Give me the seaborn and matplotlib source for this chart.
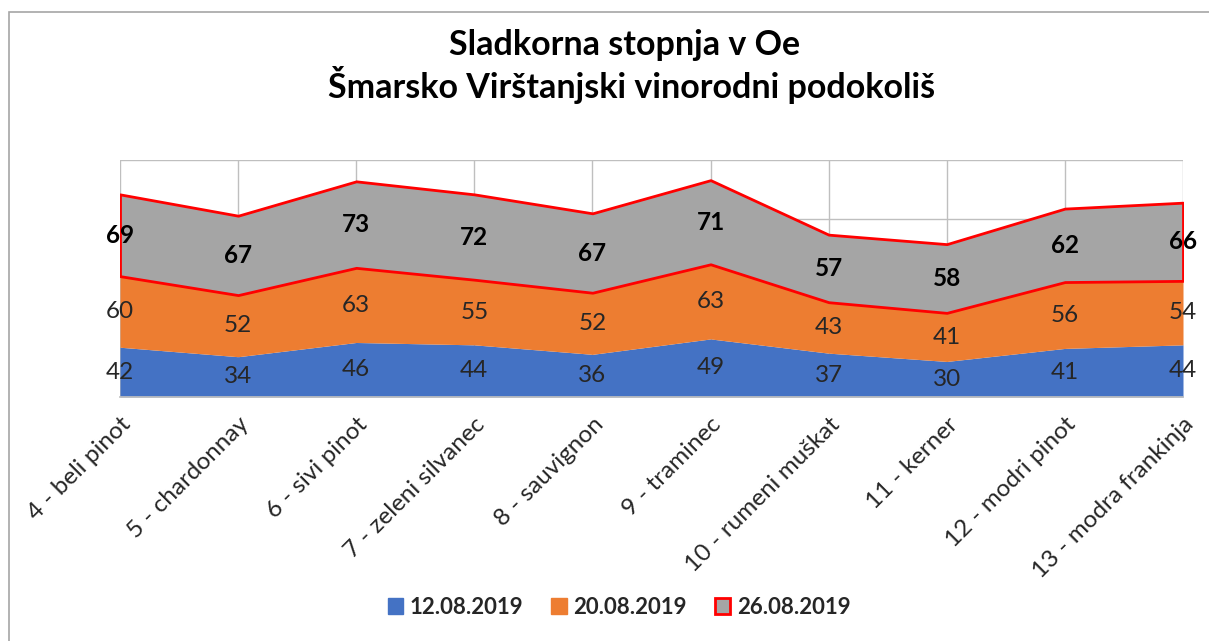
import seaborn as sns
import matplotlib.pyplot as plt
from matplotlib.patches import Rectangle, Patch

# Data
categories = ['4 - beli pinot', '5 - chardonnay', '6 - sivi pinot', '7 - zeleni silvanec',
              '8 - sauvignon', '9 - traminec', '10 - rumeni muškat', '11 - kerner',
              '12 - modri pinot', '13 - modra frankinja']
d_12_08 = [42, 34, 46, 44, 36, 49, 37, 30, 41, 44]
d_20_08 = [60, 52, 63, 55, 52, 63, 43, 41, 56, 54]
d_26_08 = [69, 67, 73, 72, 67, 71, 57, 58, 62, 66]
series_names = ['12.08.2019', '20.08.2019', '26.08.2019']

colors = ['#4472C4', '#ED7D31', '#A5A5A5']

sns.set_theme(style="whitegrid")
plt.rcParams['font.family'] = ['Lato', 'DejaVu Sans']

fig = plt.figure(figsize=(12.09, 6.41), dpi=100)
ax = fig.add_axes([120 / 1209, 1 - 397 / 641, (1183 - 120) / 1209, (397 - 160) / 641])

x = list(range(len(categories)))
polys = ax.stackplot(x, d_12_08, d_20_08, d_26_08, colors=colors, linewidth=0)
polys[2].set_edgecolor('#FF0000')
polys[2].set_linewidth(2)
polys[2].set_zorder(3)

# data labels in the middle of each band
base = [0] * len(x)
for vals, bold in [(d_12_08, False), (d_20_08, False), (d_26_08, True)]:
    for i, v in enumerate(vals):
        ax.text(i, base[i] + v / 2, str(v), ha='center', va='center',
                fontsize=17.5, color='black' if bold else '#262626',
                fontweight='bold' if bold else 'normal', zorder=5, clip_on=False)
    base = [b + v for b, v in zip(base, vals)]

ax.set_xlim(0, len(x) - 1)
ax.set_ylim(0, 200)
ax.set_yticks([0, 50, 100, 150, 200])
ax.set_yticklabels([])
ax.set_xticks(x)
ax.set_xticklabels(categories, rotation=45, ha='right', rotation_mode='anchor',
                   fontsize=17.5, color='#262626')
ax.tick_params(axis='x', length=0, pad=12)
ax.tick_params(axis='y', length=0)
ax.grid(True, color='#BFBFBF', linewidth=1)
ax.set_axisbelow(True)
for s in ax.spines.values():
    s.set_visible(False)
ax.spines['bottom'].set_visible(True)
ax.spines['bottom'].set_color('#BFBFBF')

fig.text(625 / 1209, 1 - 45 / 641, 'Sladkorna stopnja v Oe', ha='center', va='center',
         fontsize=24.5, fontweight='bold', color='black')
fig.text(632 / 1209, 1 - 85 / 641, 'Šmarsko Virštanjski vinorodni podokoliš', ha='center',
         va='center', fontsize=24.5, fontweight='bold', color='black')

handles = [Patch(facecolor=colors[0], edgecolor=colors[0]),
           Patch(facecolor=colors[1], edgecolor=colors[1]),
           Patch(facecolor=colors[2], edgecolor='#FF0000', linewidth=2)]
fig.legend(handles, series_names, loc='center', bbox_to_anchor=(619 / 1209, 1 - 607 / 641),
           ncol=3, frameon=False, prop={'size': 16, 'weight': 'bold'},
           handlelength=0.7, handleheight=0.7, handletextpad=0.3, columnspacing=1.25)

fig.patches.append(Rectangle((9 / 1209, -0.1), 1.2, 1 - 12 / 641 + 0.1,
                             transform=fig.transFigure, fill=False,
                             edgecolor='#A6A6A6', linewidth=1.2))

fig.savefig('out.png', dpi=100)
